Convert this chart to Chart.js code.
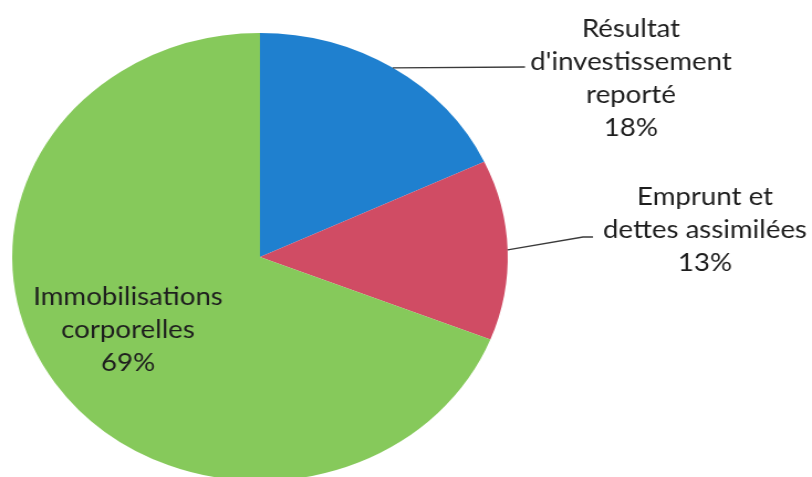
<!DOCTYPE html>
<html>
<head>
<meta charset="utf-8">
<script src="https://cdn.jsdelivr.net/npm/chart.js@4.4.1/dist/chart.umd.min.js"></script>
<style>
  html, body { margin: 0; padding: 0; background: #fff; overflow: hidden; width: 812px; height: 477px; }
  #wrap { width: 734px; height: 490px; transform-origin: 0 0; }
</style>
</head>
<body>
<div id="wrap"><canvas id="pieChart" width="734" height="490"></canvas></div>
<script>
const categories = ["Résultat d'investissement reporté", 'Emprunt et dettes assimilées', 'Immobilisations corporelles'];
const shares = [18, 13, 69];
const sliceColors = ['#1f80cf', '#d04c64', '#86c95b'];
const labelLines = [
  ['Résultat', "d'investissement", 'reporté', '18%'],
  ['Emprunt et', 'dettes assimilées', '13%'],
  ['Immobilisations', 'corporelles', '69%']
];

// the scanned pie is wider than tall, so the whole canvas is stretched sideways
const stretchX = 812 / 734;
document.getElementById('wrap').style.transform = `scaleX(${stretchX})`;

// label anchors and leader bends, in page pixels
const labelSpots = [
  { x: 631, y: 29, leader: [[525, 67]] },
  { x: 705, y: 197, leader: [[583, 237], [593, 237]] },
  { x: 128, y: 297, leader: null }
];

const labelPlugin = {
  id: 'sliceLabels',
  afterDraw(chart) {
    const { ctx } = chart;
    const meta = chart.getDatasetMeta(0);

    ctx.save();
    ctx.fillStyle = '#1e1e1e';
    ctx.font = '25px Lato, "Open Sans", sans-serif';
    ctx.textAlign = 'center';
    ctx.textBaseline = 'middle';
    labelLines.forEach((lines, i) => {
      const cx = labelSpots[i].x / stretchX;
      lines.forEach((txt, j) => ctx.fillText(txt, cx, labelSpots[i].y + j * 33));
    });
    ctx.restore();

    ctx.save();
    ctx.scale(1 / stretchX, 1);
    ctx.strokeStyle = '#3a3a3a';
    ctx.lineWidth = 1.3;
    meta.data.forEach((arc, i) => {
      const spot = labelSpots[i];
      if (!spot.leader) return;
      const { x, y, startAngle, endAngle, outerRadius } = arc.getProps(['x', 'y', 'startAngle', 'endAngle', 'outerRadius'], true);
      const mid = (startAngle + endAngle) / 2;
      ctx.beginPath();
      ctx.moveTo((x + Math.cos(mid) * outerRadius) * stretchX, y + Math.sin(mid) * outerRadius);
      spot.leader.forEach(p => ctx.lineTo(p[0], p[1]));
      ctx.stroke();
    });
    ctx.restore();
  }
};

new Chart(document.getElementById('pieChart').getContext('2d'), {
  type: 'pie',
  data: {
    labels: categories,
    datasets: [{ data: shares, backgroundColor: sliceColors, borderWidth: 0 }]
  },
  options: {
    responsive: false,
    animation: false,
    layout: { padding: { top: 33, bottom: 9, left: 11, right: 275 } },
    plugins: { legend: { display: false }, tooltip: { enabled: false } }
  },
  plugins: [labelPlugin]
});
</script>
</body>
</html>
